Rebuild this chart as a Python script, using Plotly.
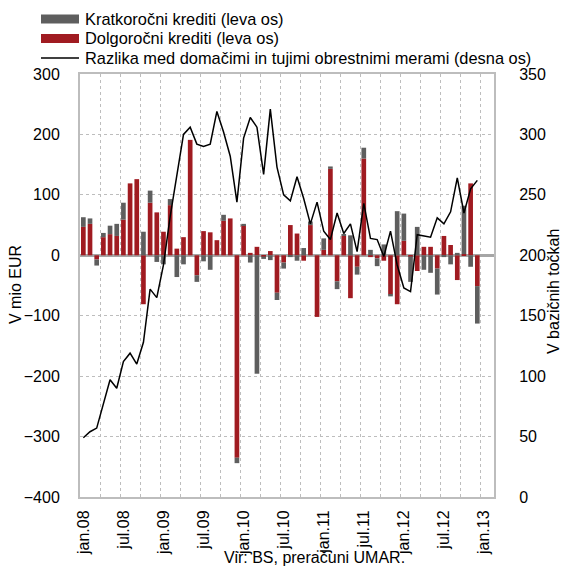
import plotly.graph_objects as go

# ---------------- data ----------------
tick_labels = ["jan.08", "jul.08", "jan.09", "jul.09", "jan.10", "jul.10",
               "jan.11", "jul.11", "jan.12", "jul.12", "jan.13"]
tick_positions = [0, 6, 12, 18, 24, 30, 36, 42, 48, 54, 60]

# monthly, jan.08 .. dec.12 (mio EUR, left axis)
dolgorocni = [47, 52, -7, 30, 35, 32, 59, 119, 126, -81, 87, 71,
              39, 83, 11, 30, 191, -33, 40, 38, 25, 57, 61, -335,
              50, 4, 14, -2, 7, -62, -12, 50, 36, -9, 50, -102,
              9, 143, -43, 32, -71, -19, 160, -3, -5, -9, -65, -81,
              24, -2, -26, 14, 14, -22, 32, 17, -41, 2, 119, -51]
kratkorocni = [16, 9, -10, 7, 14, 20, 28, 0, 0, 39, 20, -11,
               -15, 10, -36, -15, 0, -11, -10, -24, 0, 10, 0, -9,
               2, -12, -196, -4, -8, -12, -10, -3, -9, 12, 6, 0,
               19, 4, -13, 2, 33, -13, 18, 9, -13, 18, -3, 73,
               45, -42, 47, -24, -29, -43, -3, -15, 4, 80, -19, -62]
# basis points, right axis
razlika = [49, 54, 57, 77, 97, 90, 112, 119, 110, 128, 172, 165,
           192, 232, 267, 300, 306, 292, 290, 292, 319, 302, 282, 244,
           297, 314, 306, 267, 321, 273, 250, 245, 265, 247, 226, 244,
           220, 213, 235, 218, 226, 203, 243, 214, 213, 199, 220, 192,
           173, 170, 217, 216, 215, 231, 226, 236, 264, 235, 255, 262]

x = list(range(len(dolgorocni)))

RED = "#A01B21"
GREY = "#5E5E5E"
GRID = "#BDBDBD"
FONT = "Liberation Sans"
FS = 16

fig = go.Figure()
fig.add_trace(go.Bar(x=x, y=dolgorocni, name="Dolgoročni krediti (leva os)",
                     marker=dict(color=RED, line=dict(width=0))))
fig.add_trace(go.Bar(x=x, y=kratkorocni, name="Kratkoročni krediti (leva os)",
                     marker=dict(color=GREY, line=dict(width=0))))
fig.add_trace(go.Scatter(x=x, y=razlika, yaxis="y2", mode="lines",
                         name="Razlika med domačimi in tujimi obrestnimi merami (desna os)",
                         line=dict(color="black", width=1.5)))

W, H = 563, 568
L, R, T, B = 80, 494, 74, 497


def px(xp):
    return (xp - L) / (R - L)


def py(yp):
    return (B - yp) / (B - T)


TRANSPARENT = "rgba(0,0,0,0)"

fig.update_layout(
    width=W, height=H,
    margin=dict(l=L, r=W - R, t=T, b=H - B, autoexpand=False),
    plot_bgcolor="white", paper_bgcolor="white",
    barmode="relative", bargap=0.3,
    showlegend=False,
    font=dict(family=FONT, size=FS, color="black"),
    xaxis=dict(range=[-0.5, 61.5], tickmode="array", tickvals=tick_positions,
               ticktext=tick_labels, tickangle=-90, showgrid=False,
               zeroline=False, showline=True, linecolor=GRID, linewidth=2,
               mirror=True, ticks="outside", ticklen=5, tickcolor=TRANSPARENT,
               automargin=False,
               minor=dict(tickmode="linear", tick0=-0.5, dtick=3, showgrid=True,
                          gridcolor=GRID, griddash="dot", gridwidth=1, ticks="")),
    yaxis=dict(range=[-400, 300], dtick=100, showgrid=True, gridcolor=GRID,
               griddash="dot", gridwidth=1, zeroline=True, zerolinecolor="#A6A6A6",
               zerolinewidth=3, showline=True, linecolor=GRID, linewidth=2,
               mirror=True, ticks="outside", ticklen=15, tickcolor=TRANSPARENT,
               automargin=False),
    yaxis2=dict(range=[0, 350], dtick=50, overlaying="y", side="right",
                showgrid=False, zeroline=False, showline=False,
                ticks="outside", ticklen=21, tickcolor=TRANSPARENT,
                automargin=False),
)

# axis titles
fig.add_annotation(x=px(15), y=py(285), xref="paper", yref="paper", text="V mio EUR",
                   textangle=-90, showarrow=False, xanchor="center", yanchor="middle",
                   font=dict(size=FS))
fig.add_annotation(x=px(553), y=py(292), xref="paper", yref="paper",
                   text="V bazičnih točkah", textangle=-90, showarrow=False,
                   xanchor="center", yanchor="middle", font=dict(size=FS))
# source
fig.add_annotation(x=px(314), y=py(568), xref="paper", yref="paper",
                   text="Vir: BS, preračuni UMAR.", showarrow=False, yanchor="bottom",
                   xanchor="center", font=dict(size=FS))

# custom legend
legend_rows = [("Kratkoročni krediti (leva os)", GREY, "bar", 19),
               ("Dolgoročni krediti (leva os)", RED, "bar", 38.5),
               ("Razlika med domačimi in tujimi obrestnimi merami (desna os)", "black", "line", 58)]
for label, col, kind, yc in legend_rows:
    if kind == "bar":
        fig.add_shape(type="rect", xref="paper", yref="paper",
                      x0=px(41), x1=px(79), y0=py(yc + 4.5), y1=py(yc - 4.5),
                      fillcolor=col, line=dict(width=0))
    else:
        fig.add_shape(type="line", xref="paper", yref="paper",
                      x0=px(41), x1=px(79), y0=py(yc), y1=py(yc),
                      line=dict(color=col, width=1.5))
    fig.add_annotation(x=px(83), y=py(yc), xref="paper", yref="paper", text=label,
                       xanchor="left", yanchor="middle", showarrow=False,
                       font=dict(size=16.4))

fig.write_html("out.html", config={"displayModeBar": False},
               post_script="document.body.style.margin='0px';")
